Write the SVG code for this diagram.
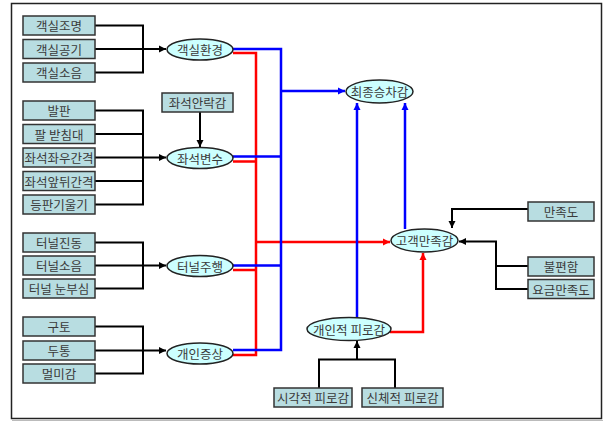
<svg xmlns="http://www.w3.org/2000/svg" width="607" height="421" viewBox="0 0 607 421">
<style>
.box{fill:#b8dde1;stroke:#333;stroke-width:1.5}
.ell{fill:#ccffff;stroke:#222;stroke-width:1.5}
text{font-family:"Noto Sans CJK KR","Noto Sans",sans-serif;font-size:12.5px;fill:#3a3a3a;text-anchor:middle;dominant-baseline:central}
.k{fill:none;stroke:#000;stroke-width:2}
.b{fill:none;stroke:#0000ff;stroke-width:2.5}
.r{fill:none;stroke:#ff0000;stroke-width:2.5}
</style>
<defs>
<marker id="ak" markerUnits="userSpaceOnUse" markerWidth="8" markerHeight="8" refX="7" refY="4" orient="auto"><path d="M0,0.5 L7,4 L0,7.5 Z" fill="#000"/></marker>
<marker id="ab" markerUnits="userSpaceOnUse" markerWidth="8" markerHeight="8" refX="7" refY="4" orient="auto"><path d="M0,0.5 L7,4 L0,7.5 Z" fill="#0000ff"/></marker>
<marker id="ar" markerUnits="userSpaceOnUse" markerWidth="8" markerHeight="8" refX="7" refY="4" orient="auto"><path d="M0,0.5 L7,4 L0,7.5 Z" fill="#ff0000"/></marker>
</defs>
<rect x="0" y="0" width="607" height="421" fill="#fff"/>
<rect x="11.5" y="3.5" width="590" height="415" fill="none" stroke="#222" stroke-width="1.5"/>
<line x1="12" y1="420.5" x2="603" y2="420.5" stroke="#bbb" stroke-width="1"/>

<g id="connectors">
<path class="k" d="M95,25.5 H143 V72.5 H95"/>
<path class="k" d="M95,49 H166" marker-end="url(#ak)" stroke-width="2.5"/>
<path class="k" d="M95,110.5 H143 V204.5 H95 M95,134 H143 M95,181 H143"/>
<path class="k" d="M95,157.5 H166" marker-end="url(#ak)"/>
<path class="k" d="M200,112 V147" marker-end="url(#ak)"/>
<path class="k" d="M95,242.5 H143 V288.5 H95"/>
<path class="k" d="M95,265.5 H166" marker-end="url(#ak)" stroke-width="2.5"/>
<path class="k" d="M95,326.5 H143 V373.5 H95"/>
<path class="k" d="M95,350.5 H166" marker-end="url(#ak)" stroke-width="2.5"/>
<path class="r" d="M233,53 H256 V355 H233 M233,161.5 H256 M233,270 H256"/>
<path class="r" d="M256,242 H390" marker-end="url(#ar)"/>
<path class="r" d="M390,332 H423 V253" marker-end="url(#ar)"/>
<path class="b" d="M233,49 H281 V350 H233 M233,156.5 H281 M233,265.5 H281"/>
<path class="b" d="M281,91 H345" marker-end="url(#ab)"/>
<path class="b" d="M357,317 V103" marker-end="url(#ab)"/>
<path class="b" d="M405,229 V103" marker-end="url(#ab)"/>
<path class="k" d="M528,209 H452 V228" marker-end="url(#ak)"/>
<path class="k" d="M528,266 H496 M528,289 H496 V241.5 H459" marker-end="url(#ak)"/>
<path class="k" d="M319,388 V359.5 H395 V388"/>
<path class="k" d="M357,359.5 V341" marker-end="url(#ak)"/>
</g>

<g id="n1"><rect class="box" x="23" y="16" width="72" height="19"/><text x="59" y="25.5">객실조명</text></g>
<g id="n2"><rect class="box" x="23" y="39.5" width="72" height="19"/><text x="59" y="49">객실공기</text></g>
<g id="n3"><rect class="box" x="23" y="63" width="72" height="19"/><text x="59" y="72.5">객실소음</text></g>
<g id="n4"><rect class="box" x="23" y="101" width="72" height="19"/><text x="59" y="110.5">발판</text></g>
<g id="n5"><rect class="box" x="23" y="124.5" width="72" height="19"/><text x="59" y="134">팔 받침대</text></g>
<g id="n6"><rect class="box" x="23" y="148" width="72" height="19"/><text x="59" y="157.5">좌석좌우간격</text></g>
<g id="n7"><rect class="box" x="23" y="171.5" width="72" height="19"/><text x="59" y="181">좌석앞뒤간격</text></g>
<g id="n8"><rect class="box" x="23" y="195" width="72" height="19"/><text x="59" y="204.5">등판기울기</text></g>
<g id="n9"><rect class="box" x="23" y="233" width="72" height="19"/><text x="59" y="242.5">터널진동</text></g>
<g id="n10"><rect class="box" x="23" y="256" width="72" height="19"/><text x="59" y="265.5">터널소음</text></g>
<g id="n11"><rect class="box" x="23" y="279" width="72" height="19"/><text x="59" y="288.5">터널 눈부심</text></g>
<g id="n12"><rect class="box" x="23" y="317" width="72" height="19"/><text x="59" y="326.5">구토</text></g>
<g id="n13"><rect class="box" x="23" y="341" width="72" height="19"/><text x="59" y="350.5">두통</text></g>
<g id="n14"><rect class="box" x="23" y="364" width="72" height="19"/><text x="59" y="373.5">멀미감</text></g>
<g id="n15"><rect class="box" x="162" y="93" width="71" height="19"/><text x="197.5" y="102.5">좌석안락감</text></g>

<g id="e1"><ellipse class="ell" cx="200" cy="49.5" rx="33" ry="10.5"/><text x="200" y="49.5">객실환경</text></g>
<g id="e2"><ellipse class="ell" cx="200" cy="158" rx="33" ry="10.5"/><text x="200" y="158">좌석변수</text></g>
<g id="e3"><ellipse class="ell" cx="200" cy="266" rx="33" ry="10.5"/><text x="200" y="266">터널주행</text></g>
<g id="e4"><ellipse class="ell" cx="200" cy="353.5" rx="33" ry="10.5"/><text x="200" y="353.5">개인증상</text></g>
<g id="e5"><ellipse class="ell" cx="379.5" cy="91.5" rx="33.5" ry="11.5"/><text x="379.5" y="91.5">최종승차감</text></g>
<g id="e6"><ellipse class="ell" cx="424.5" cy="240.5" rx="33.5" ry="11.5"/><text x="424.5" y="240.5">고객만족감</text></g>
<g id="e7"><ellipse class="ell" cx="349" cy="329" rx="42" ry="11.5"/><text x="349" y="329">개인적 피로감</text></g>

<g id="n16"><rect class="box" x="528" y="202" width="66" height="19"/><text x="561" y="211.5">만족도</text></g>
<g id="n17"><rect class="box" x="528" y="257" width="66" height="19"/><text x="561" y="266.5">불편함</text></g>
<g id="n18"><rect class="box" x="528" y="279.5" width="66" height="19"/><text x="561" y="289">요금만족도</text></g>
<g id="n19"><rect class="box" x="274" y="388" width="78" height="19"/><text x="313" y="397.5">시각적 피로감</text></g>
<g id="n20"><rect class="box" x="362" y="388" width="81" height="19"/><text x="402.5" y="397.5">신체적 피로감</text></g>
</svg>
